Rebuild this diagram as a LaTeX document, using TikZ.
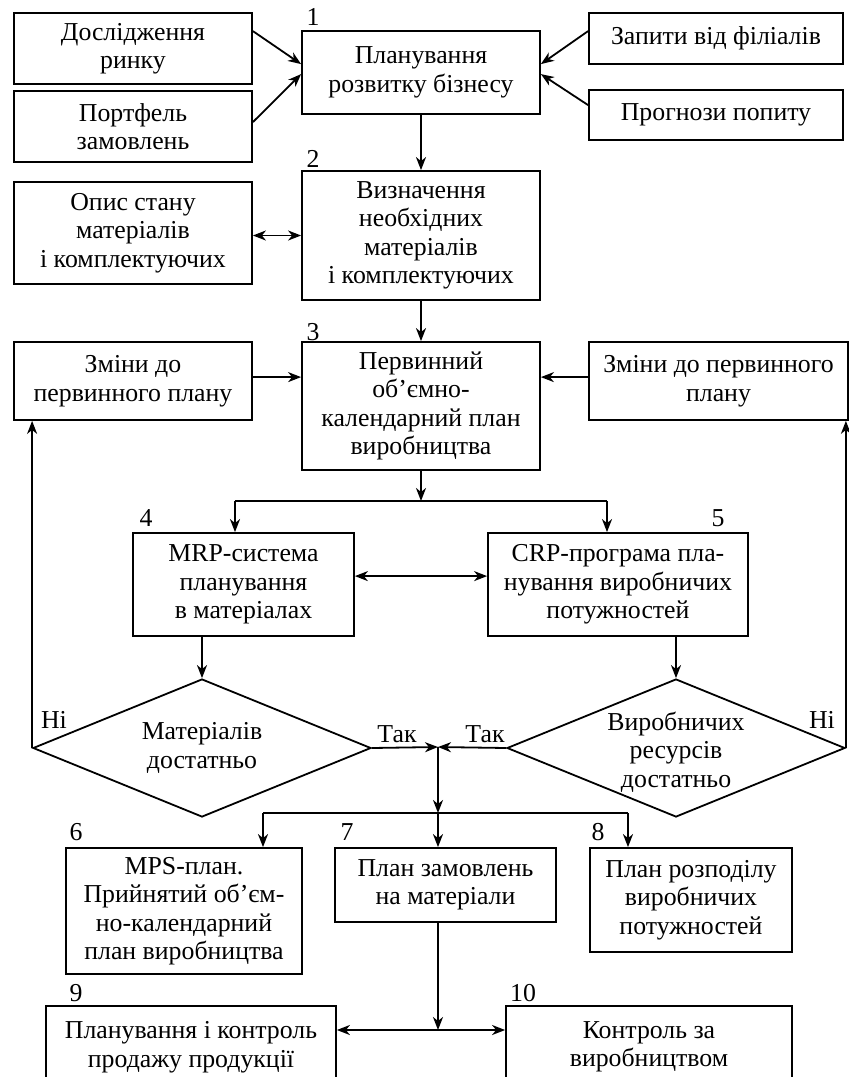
\documentclass[tikz,border=0pt]{standalone}
\usepackage{fontspec}
\setmainfont{Liberation Serif}
\usetikzlibrary{arrows.meta,calc,shapes.geometric}
\begin{document}
\begin{tikzpicture}[x=1pt,y=-1pt,
  font=\fontsize{25.8}{28.5}\selectfont,
  line width=1.8pt,
  box/.style={draw,rectangle,align=center,inner sep=0pt},
  dia/.style={draw,diamond,inner sep=0pt,minimum width=338pt,minimum height=138pt},
  num/.style={inner sep=0pt},
  arr/.style={-{Stealth[length=13pt,width=10pt,inset=4pt]}},
  darr/.style={{Stealth[length=13pt,width=10pt,inset=4pt]}-{Stealth[length=13pt,width=10pt,inset=4pt]}}
]
\useasboundingbox (0,0) rectangle (849,1077);
\clip (0,0) rectangle (849,1077);
% top row
\node[box,minimum width=238pt,minimum height=71pt] (A) at (133,48.5) {Дослідження\\ринку};
\node[box,minimum width=238pt,minimum height=71pt] (B) at (133,126.5) {Портфель\\замовлень};
\node[box,minimum width=238pt,minimum height=83pt] (b1) at (421,72.5) {Планування\\розвитку бізнесу};
\node[box,minimum width=254pt,minimum height=51pt] (D) at (716,38.5) {Запити від філіалів};
\node[box,minimum width=254pt,minimum height=50pt] (E) at (716,115) {Прогнози попиту};
\node[num] (n1) at (313,17) {1};
% second row
\node[box,minimum width=238pt,minimum height=102pt] (C) at (133,233) {Опис стану\\матеріалів\\і комплектуючих};
\node[box,minimum width=238pt,minimum height=129pt] (b2) at (421,235.5) {Визначення\\необхідних\\матеріалів\\і комплектуючих};
\node[num] (n2) at (313,159) {2};
% third row
\node[box,minimum width=238pt,minimum height=78pt] (F) at (133,381) {Зміни до\\первинного плану};
\node[box,minimum width=238pt,minimum height=128pt] (b3) at (421,406) {Первинний\\об’ємно-\\календарний план\\виробництва};
\node[box,minimum width=259pt,minimum height=78pt] (G) at (718.5,381) {Зміни до первинного\\плану};
\node[num] (n3) at (313,332) {3};
% fourth row
\node[box,minimum width=221pt,minimum height=103pt] (b4) at (243.5,584.5) {MRP-система\\планування\\в матеріалах};
\node[box,minimum width=260pt,minimum height=103pt] (b5) at (618,584.5) {CRP-програма пла-\\нування виробничих\\потужностей};
\node[num] (n4) at (146,518) {4};
\node[num] (n5) at (718,518) {5};
% diamonds
\node[dia] (d1) at (202,748) {};
\node[align=center,inner sep=0pt] (t1) at (d1.center) {Матеріалів\\достатньо};
\node[dia] (d2) at (676,748) {};
\node[align=center,inner sep=0pt] (t2) at ($(d2.center)+(0,4)$) {Виробничих\\ресурсів\\достатньо};
\node[num] (no1) at (54,720) {Ні};
\node[num] (no2) at (822,720) {Ні};
\node[num] (y1) at (397,734) {Так};
\node[num] (y2) at (485,734) {Так};
% lower boxes
\node[box,minimum width=236pt,minimum height=126pt] (b6) at (184,911) {MPS-план.\\Прийнятий об’єм-\\но-календарний\\план виробництва};
\node[box,minimum width=221pt,minimum height=74pt] (b7) at (445.5,885) {План замовлень\\на матеріали};
\node[box,minimum width=202pt,minimum height=104pt] (b8) at (691,900) {План розподілу\\виробничих\\потужностей};
\node[num] (n6) at (76,832) {6};
\node[num] (n7) at (347,832) {7};
\node[num] (n8) at (598,832) {8};
\node[box,minimum width=290pt,minimum height=82pt] (b9) at (191,1047) {Планування і контроль\\продажу продукції};
\node[box,minimum width=286pt,minimum height=82pt] (b10) at (649,1047) {Контроль за\\виробництвом};
\node[num] (n9) at (76,993) {9};
\node[num] (n10) at (523,993) {10};
% coordinates
\coordinate (j1) at (421,501);
\coordinate (j1l) at (235,501);
\coordinate (j1r) at (607,501);
\coordinate (j2) at (438,747);
\coordinate (j3) at (438,813);
\coordinate (j3l) at (263,813);
\coordinate (j3r) at (628,813);
\coordinate (j4) at (438,1030);
% connectors
\draw[arr] ($(A.north east)+(0,19)$) -- ($(b1.north west)+(0,34)$);
\draw[arr] ($(B.north east)+(0,32)$) -- ($(b1.north west)+(0,44)$);
\draw[arr] ($(D.north west)+(0,19)$) -- ($(b1.north east)+(0,34)$);
\draw[arr] ($(E.north west)+(0,16)$) -- ($(b1.north east)+(0,44)$);
\draw[arr] (b1.south) -- (b2.north);
\draw[darr] (C.east |- b2.west) -- (b2.west);
\draw[arr] (b2.south) -- (b3.north);
\draw[arr] ($(F.north east)+(0,36)$) -- ($(b3.north west)+(0,36)$);
\draw[arr] ($(G.north west)+(0,36)$) -- ($(b3.north east)+(0,36)$);
\draw[arr] (b3.south) -- (j1);
\draw (j1l) -- (j1r);
\draw[arr] (j1l) -- (j1l |- b4.north);
\draw[arr] (j1r) -- (j1r |- b5.north);
\draw[darr] ($(b4.north east)+(0,44)$) -- ($(b5.north west)+(0,44)$);
\draw[arr] (d1.north |- b4.south) -- (d1.north);
\draw[arr] (d2.north |- b5.south) -- (d2.north);
\draw[arr] (d1.west) -- (d1.west |- F.south);
\draw[arr] (d2.east) -- (d2.east |- G.south);
\draw[arr] (d1.east) -- (j2);
\draw[arr] (d2.west) -- (j2);
\draw[arr] (j2) -- (j3);
\draw (j3l) -- (j3r);
\draw[arr] (j3l) -- (j3l |- b6.north);
\draw[arr] (j3) -- (j3 |- b7.north);
\draw[arr] (j3r) -- (j3r |- b8.north);
\draw[arr] (j3 |- b7.south) -- (j4);
\draw[arr] (j4) -- (j4 -| b9.east);
\draw[arr] (j4) -- (j4 -| b10.west);
\end{tikzpicture}
\end{document}
